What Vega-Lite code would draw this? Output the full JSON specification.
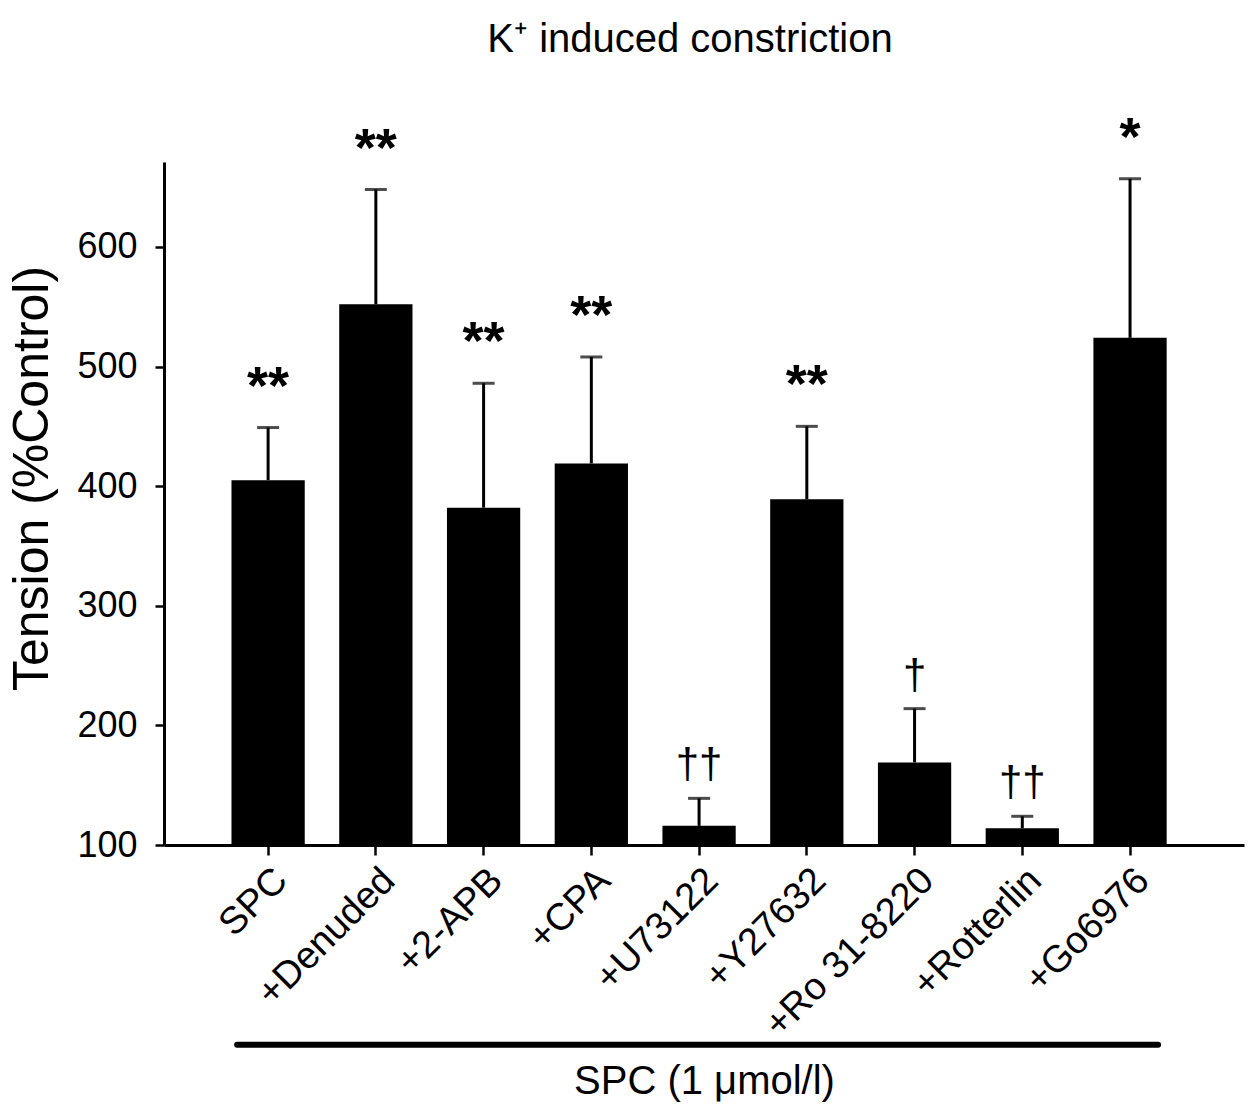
{
  "$schema": "https://vega.github.io/schema/vega-lite/v6.json",
  "width": 1080,
  "height": 683,
  "autosize": {"type": "none"},
  "padding": {"left": 164, "top": 162, "right": 5, "bottom": 260},
  "background": "white",
  "config": {
    "view": {"stroke": null},
    "font": "Liberation Sans",
    "axis": {"labelFont": "Liberation Sans", "titleFont": "Liberation Sans", "labelColor": "black", "titleColor": "black", "domainColor": "black", "tickColor": "black", "grid": false, "titleFontWeight": "normal"}
  },
  "title": {"text": "K⁺ induced constriction", "fontSize": 40, "fontWeight": "normal", "font": "Liberation Sans", "color": "black", "frame": "group", "anchor": "middle", "offset": 52, "dx": -14},
  "data": {"values": [
    {"group": "SPC", "mean": 405, "err": 449, "sig": "**", "kind": "star"},
    {"group": "+Denuded", "mean": 552, "err": 648, "sig": "**", "kind": "star"},
    {"group": "+2-APB", "mean": 382, "err": 486, "sig": "**", "kind": "star"},
    {"group": "+CPA", "mean": 419, "err": 508, "sig": "**", "kind": "star"},
    {"group": "+U73122", "mean": 116, "err": 139, "sig": "††", "kind": "dagger"},
    {"group": "+Y27632", "mean": 389, "err": 450, "sig": "**", "kind": "star"},
    {"group": "+Ro 31-8220", "mean": 169, "err": 214, "sig": "†", "kind": "dagger"},
    {"group": "+Rotterlin", "mean": 114, "err": 124, "sig": "††", "kind": "dagger"},
    {"group": "+Go6976", "mean": 524, "err": 657, "sig": "*", "kind": "star"}
  ]},
  "encoding": {
    "x": {
      "field": "group", "type": "nominal", "sort": null,
      "scale": {"paddingInner": 0.32, "paddingOuter": 0.672, "align": 0.466},
      "axis": {"title": "SPC (1 μmol/l)", "titleFontSize": 40, "titlePadding": 18, "labelAngle": -45, "labelFontSize": 38, "labelLimit": 0, "labelPadding": 6, "tickSize": 10, "tickWidth": 2.5, "domainWidth": 3}
    }
  },
  "layer": [
    {
      "mark": {"type": "bar", "color": "black"},
      "encoding": {
        "y": {"field": "mean", "type": "quantitative", "scale": {"domain": [100, 671], "zero": false, "nice": false},
          "axis": {"values": [100, 200, 300, 400, 500, 600], "title": "Tension (%Control)", "titleFontSize": 50, "titlePadding": 19, "titleY": 316, "labelFontSize": 36, "labelPadding": 18, "tickSize": 9, "tickWidth": 2.5, "domainWidth": 3}},
        "y2": {"datum": 100}
      }
    },
    {
      "mark": {"type": "rule", "color": "black", "strokeWidth": 3},
      "encoding": {
        "y": {"field": "mean", "type": "quantitative"},
        "y2": {"field": "err"}
      }
    },
    {
      "mark": {"type": "tick", "color": "black", "size": 22, "thickness": 3},
      "encoding": {"y": {"field": "err", "type": "quantitative"}}
    },
    {
      "transform": [{"filter": "datum.kind == 'star'"}],
      "mark": {"type": "text", "fontSize": 54, "fontWeight": "bold", "color": "black", "baseline": "alphabetic", "dy": -24},
      "encoding": {"y": {"field": "err", "type": "quantitative"}, "text": {"field": "sig"}}
    },
    {
      "transform": [{"filter": "datum.kind == 'dagger'"}],
      "mark": {"type": "text", "fontSize": 42, "color": "black", "baseline": "alphabetic", "dy": -20},
      "encoding": {"y": {"field": "err", "type": "quantitative"}, "text": {"field": "sig"}}
    },
    {
      "data": {"values": [{"from": "SPC", "to": "+Go6976", "level": -67}]},
      "mark": {"type": "rule", "color": "black", "strokeWidth": 6, "strokeCap": "round", "xOffset": -31, "x2Offset": 28},
      "encoding": {
        "x": {"field": "from", "type": "nominal"},
        "x2": {"field": "to"},
        "y": {"field": "level", "type": "quantitative"}
      }
    }
  ]
}
